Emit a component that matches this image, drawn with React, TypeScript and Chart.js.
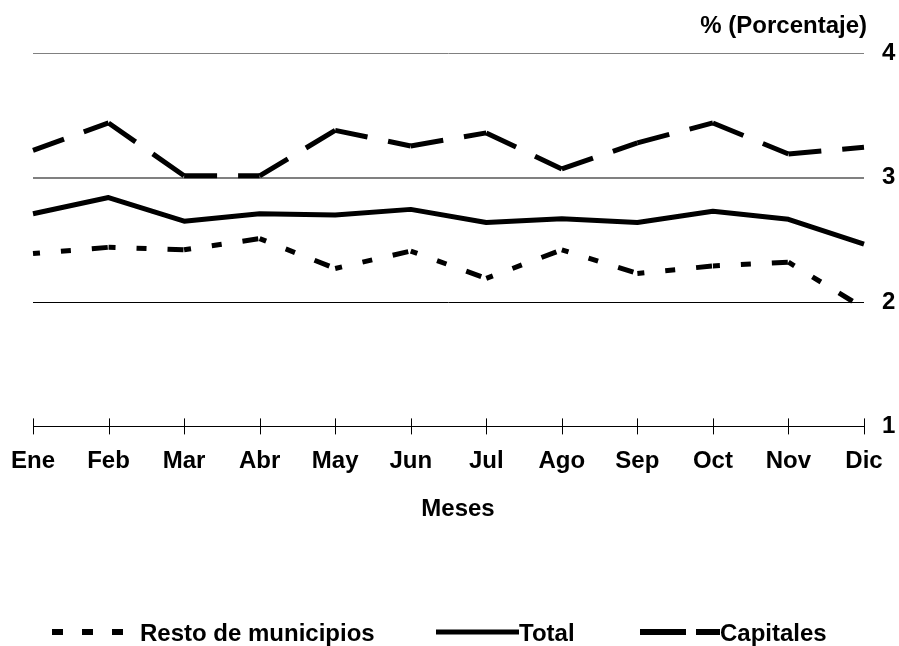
import React, { useEffect, useRef } from "react";
import { Chart, registerables } from "chart.js";

Chart.register(...registerables);

const months = ["Ene", "Feb", "Mar", "Abr", "May", "Jun", "Jul", "Ago", "Sep", "Oct", "Nov", "Dic"];
const resto = [2.39, 2.44, 2.42, 2.51, 2.27, 2.41, 2.19, 2.42, 2.23, 2.29, 2.32, 1.95];
const total = [2.71, 2.84, 2.65, 2.71, 2.7, 2.745, 2.64, 2.67, 2.64, 2.73, 2.665, 2.465];
const capitales = [3.22, 3.44, 3.015, 3.015, 3.38, 3.255, 3.36, 3.07, 3.28, 3.44, 3.19, 3.245];
const seriesNames = ["Resto de municipios", "Total", "Capitales"];
const yMin = 1;
const yMax = 4;
const yStep = 1;
const yAxisTitle = "% (Porcentaje)";
const xAxisTitle = "Meses";

const FONT = '"Liberation Sans", Arial, Helvetica, sans-serif';
const BOLD24 = { family: FONT, size: 24, weight: "bold" as const };

// restart the dash pattern at every segment (alternating a negligible offset forces separate strokes)
const perSegment = {
  borderDashOffset: (ctx: any) => (ctx.p0DataIndex % 2 ? 0.001 : 0),
};

const legendItems = [
  { x0: 52, x1: 125, width: 6, dash: [11, 19], textX: 140 },
  { x0: 436, x1: 519, width: 5, dash: [], textX: 519 },
  { x0: 640, x1: 720, width: 6, dash: [46, 10], textX: 720 },
];

const decorPlugin = {
  id: "decor",
  afterDraw(chart: any) {
    const ctx = chart.ctx;
    const xs = chart.scales.x;
    const bottom = chart.chartArea.bottom;
    ctx.save();
    // tick marks crossing the axis
    ctx.strokeStyle = "#000";
    ctx.lineWidth = 1;
    ctx.setLineDash([]);
    xs.ticks.forEach((_t: any, i: number) => {
      const x = Math.round(xs.getPixelForTick(i)) + 0.5;
      ctx.beginPath();
      ctx.moveTo(x, bottom - 8);
      ctx.lineTo(x, bottom + 8);
      ctx.stroke();
    });
    ctx.fillStyle = "#000";
    ctx.font = `bold 24px ${FONT}`;
    // y axis title at top right
    ctx.textAlign = "right";
    ctx.textBaseline = "alphabetic";
    ctx.fillText(yAxisTitle, 867, 33);
    // x axis title
    ctx.textAlign = "center";
    ctx.textBaseline = "middle";
    ctx.fillText(xAxisTitle, 458, 509);
    // legend
    const ly = 632;
    chart.data.datasets.forEach((ds: any, i: number) => {
      const it = legendItems[i];
      ctx.strokeStyle = ds.borderColor;
      ctx.lineWidth = it.width;
      ctx.lineCap = "butt";
      ctx.setLineDash(it.dash);
      ctx.beginPath();
      ctx.moveTo(it.x0, ly);
      ctx.lineTo(it.x1, ly);
      ctx.stroke();
      ctx.setLineDash([]);
      ctx.textAlign = "left";
      ctx.textBaseline = "middle";
      ctx.fillStyle = "#000";
      ctx.fillText(ds.label, it.textX, ly + 2);
    });
    ctx.restore();
  },
};

export default function App() {
  const ref = useRef<HTMLCanvasElement | null>(null);
  useEffect(() => {
    if (!ref.current) return;
    const chart = new Chart(ref.current, {
      type: "line",
      data: {
        labels: months,
        datasets: [
          {
            label: seriesNames[0],
            data: resto,
            borderColor: "#000",
            borderWidth: 5,
            borderDash: [7, 21, 10, 21, 16, 100],
            borderCapStyle: "butt",
            pointRadius: 0,
            tension: 0,
            fill: false,
            segment: perSegment,
          },
          {
            label: seriesNames[1],
            data: total,
            borderColor: "#000",
            borderWidth: 5,
            borderJoinStyle: "round",
            pointRadius: 0,
            tension: 0,
            fill: false,
          },
          {
            label: seriesNames[2],
            data: capitales,
            borderColor: "#000",
            borderWidth: 5,
            borderDash: [33, 21, 100, 0],
            borderCapStyle: "butt",
            pointRadius: 0,
            tension: 0,
            fill: false,
            segment: perSegment,
          },
        ],
      },
      options: {
        responsive: true,
        maintainAspectRatio: false,
        animation: false,
        layout: { padding: { left: 33, right: 0, top: 53.3, bottom: 122.6 } },
        plugins: {
          legend: { display: false },
          title: { display: false },
          tooltip: { enabled: false },
        },
        scales: {
          x: {
            type: "category",
            offset: false,
            grid: { display: false, drawTicks: false },
            border: { display: true, color: "#000", width: 1 },
            ticks: {
              color: "#000",
              font: BOLD24,
              padding: 21,
              maxRotation: 0,
              autoSkip: false,
            },
            title: { display: false },
            afterFit: (s: any) => {
              s.height = 97;
              s.paddingLeft = 0;
              s.paddingRight = 0;
            },
          },
          y: {
            position: "right",
            min: yMin,
            max: yMax,
            border: { display: false },
            grid: {
              drawTicks: false,
              color: (c: any) =>
                c.tick && c.tick.value === 2 ? "#000" : c.tick && c.tick.value === 1 ? "rgba(0,0,0,0)" : "#808080",
              lineWidth: (c: any) => (c.tick && c.tick.value === 3 ? 2 : 1),
            },
            ticks: {
              stepSize: yStep,
              color: "#000",
              font: BOLD24,
              padding: 18,
              crossAlign: "near",
            },
            afterFit: (s: any) => {
              s.width = 35;
              s.paddingTop = 0;
              s.paddingBottom = 0;
            },
          },
        },
      },
      plugins: [decorPlugin],
    });
    return () => chart.destroy();
  }, []);
  return (
    <div style={{ position: "absolute", left: 0, top: 0, width: 899, height: 646, background: "#fff" }}>
      <canvas ref={ref} />
    </div>
  );
}
